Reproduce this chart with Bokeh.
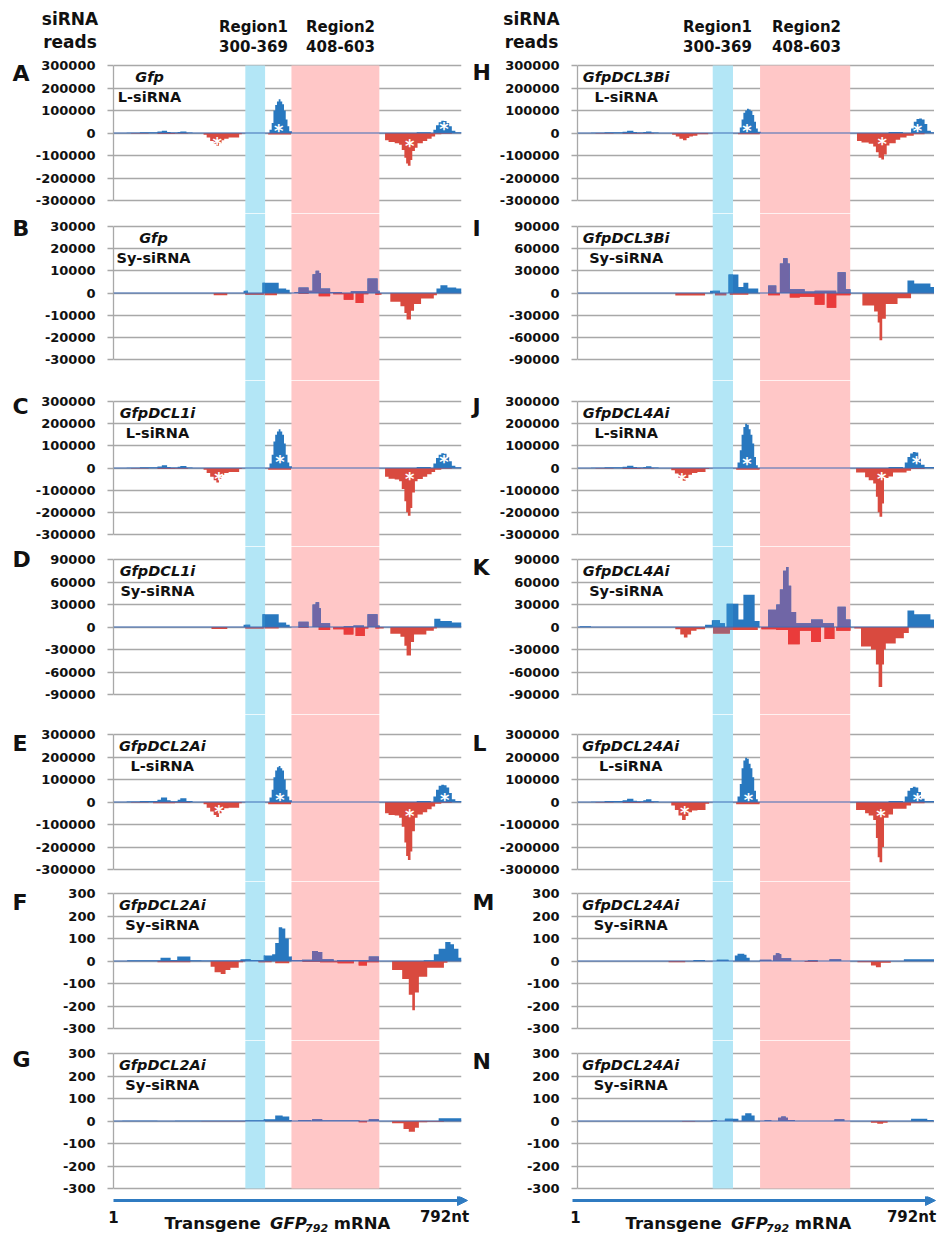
from bokeh.plotting import figure
from bokeh.layouts import column, row
from bokeh.models import Range1d, FixedTicker, Span, Arrow, NormalHead, Spacer
from bokeh.embed import file_html
from bokeh.resources import INLINE
from bokeh.core.properties import value

NT = 792
FONT = "DejaVu Sans"

# ---------------- data (segments: [start_nt, end_nt, reads]) ----------------
# L-siRNA values in thousands of reads; Sy-siRNA B/D/I/K in thousands; F/G/M/N raw reads
A_pos = [[30,60,1],[60,100,3],[100,110,7],[110,122,10],[122,130,5],[130,146,2],[146,152,5],[152,166,7],[166,180,2],
         [355,360,15],[360,364,45],[364,368,100],[368,372,125],[372,376,140],[376,380,150],[380,384,140],[384,388,128],[388,392,100],[392,396,60],[396,400,30],[400,406,8],
         [690,722,3],[728,734,15],[734,740,35],[740,746,48],[746,752,55],[752,758,53],[758,764,45],[764,770,30],[770,778,10],[778,792,3]]
A_neg = [[40,80,2],[100,140,4],[140,170,2],
         [205,212,8],[212,220,20],[220,228,35],[228,234,48],[234,240,57],[240,246,45],[246,252,32],[252,262,25],[262,286,20],[286,292,5],
         [352,404,7],
         [618,626,32],[626,640,40],[640,650,45],[650,656,52],[656,662,75],[662,666,110],[666,670,135],[670,676,145],[676,680,120],[680,686,80],[686,692,65],[692,704,45],[704,714,35],[714,724,25],[724,732,15],[732,746,6],[746,770,3]]
A_ast = [[236,-31],[376,31],[674,-39],[752,36]]

B_pos = [[296,306,1],[339,376,4.6],[376,393,2],[393,401,1.5],
         [412,421,0.5],[421,444,2.5],[444,453,1],[453,460,8.5],[460,468,10],[468,472,9],[472,493,2],[493,520,0.5],[540,551,0.8],[551,578,0.8],[578,601,6.5],[601,606,1],
         [735,744,2],[744,760,3.5],[760,780,2.5],[780,792,2]]
B_neg = [[228,259,1],[300,342,0.8],[344,372,1],
         [421,444,0.3],[467,493,1.5],[500,524,0.6],[524,546,3],[551,569,4.5],[569,580,0.6],[596,610,0.8],
         [630,653,4],[653,662,6],[662,667,9],[667,677,12],[677,684,8],[684,700,5],[700,729,2.5],[729,736,1]]

C_pos = [[30,60,1],[60,100,3],[100,110,7],[110,122,12],[122,130,5],[130,146,2],[146,152,6],[152,166,9],[166,180,2],
         [355,360,20],[360,364,60],[364,368,120],[368,372,150],[372,376,165],[376,380,175],[380,384,165],[384,388,150],[388,392,110],[392,396,60],[396,400,25],[400,406,8],
         [690,722,4],[728,734,20],[734,740,45],[740,746,60],[746,752,66],[752,758,64],[758,764,50],[764,770,30],[770,778,10],[778,792,3]]
C_neg = [[40,80,2],[100,140,5],[140,170,3],
         [205,212,8],[212,220,22],[220,228,40],[228,234,55],[234,240,65],[240,246,48],[246,252,32],[252,262,22],[262,286,18],[286,292,5],
         [352,404,8],
         [618,626,40],[626,640,48],[640,650,52],[650,656,60],[656,662,95],[662,666,150],[666,670,200],[670,676,215],[676,680,180],[680,686,110],[686,692,60],[692,704,50],[704,714,40],[714,724,28],[724,732,18],[732,746,8],[746,770,3]]
C_ast = [[240,-28],[379,46],[674,-28],[752,46]]

D_pos = [[296,311,3],[339,376,17],[376,393,6],[393,401,3],
         [421,444,7],[453,460,30],[460,468,33],[468,472,25],[472,493,5],[524,546,1],[546,570,2],[578,601,17],[601,606,2],
         [730,744,11],[744,770,8],[770,792,6]]
D_neg = [[223,259,2.5],[300,342,2],[344,376,2],
         [421,444,1],[467,493,4],[500,524,3],[524,546,10],[551,572,12],[572,580,2],[596,615,2],
         [630,653,9],[653,662,13],[662,667,25],[667,677,38],[677,684,20],[684,712,10],[712,729,5],[729,736,2]]

E_pos = [[30,60,2],[60,100,4],[100,108,10],[108,122,20],[122,130,8],[130,146,3],[146,152,10],[152,166,17],[166,180,4],
         [355,360,20],[360,364,55],[364,368,110],[368,372,140],[372,376,155],[376,380,160],[380,384,150],[384,388,140],[388,392,100],[392,396,55],[396,400,25],[400,406,8],
         [690,722,5],[728,734,25],[734,740,55],[740,746,72],[746,752,77],[752,758,74],[758,764,65],[764,770,40],[770,778,12],[778,792,4]]
E_neg = [[40,80,2],[90,140,5],[140,175,3],
         [205,212,10],[212,220,25],[220,228,42],[228,234,58],[234,240,67],[240,246,50],[246,252,35],[252,262,28],[262,286,25],[286,292,5],
         [352,404,10],
         [618,626,50],[626,640,58],[640,650,60],[650,656,70],[656,662,110],[662,666,180],[666,670,240],[670,676,258],[676,680,220],[680,686,130],[686,692,70],[692,704,55],[704,714,45],[714,724,32],[724,732,20],[732,746,8],[746,770,3]]
E_ast = [[240,-25],[379,30],[674,-40],[754,30]]

F_pos = [[31,107,3],[107,130,15],[130,145,5],[145,175,20],[175,200,3],[200,289,2],[289,312,8],[312,342,3],[342,361,25],[361,368,30],[368,376,80],[376,384,150],[384,391,145],[391,399,100],[399,406,20],
         [406,429,3],[429,452,6],[452,465,45],[465,475,40],[475,501,8],[509,547,5],[547,581,3],[581,604,20],
         [706,729,3],[729,740,30],[740,755,55],[755,767,85],[767,775,75],[775,785,55],[785,792,15]]
F_neg = [[100,175,5],
         [221,230,25],[230,244,50],[244,255,58],[255,266,40],[266,285,30],[285,295,5],
         [330,360,5],[368,400,10],
         [430,470,3],[470,510,6],[510,547,10],[558,577,20],[577,604,5],
         [634,657,40],[657,672,80],[672,680,150],[680,686,219],[686,695,140],[695,714,70],[714,752,30],[752,760,8]]

G_pos = [[20,100,1.5],[140,200,1.5],[200,300,1],[300,342,2],[342,368,8],[368,385,25],[385,400,20],[400,406,5],
         [420,450,3],[452,475,8],[475,560,2],[581,604,8],
         [740,792,12]]
G_neg = [[200,300,1],[558,577,5],
         [634,660,10],[660,672,35],[672,686,48],[686,695,30],[695,714,5],[714,752,3]]

H_pos = [[30,60,1],[60,100,3],[100,110,6],[110,124,10],[124,132,4],[132,146,2],[146,152,4],[152,164,7],[164,180,2],
         [360,364,25],[364,368,60],[368,372,90],[372,376,100],[376,380,108],[380,384,105],[384,388,98],[388,392,80],[392,396,50],[396,400,20],[400,406,6],
         [690,722,4],[740,746,20],[746,752,50],[752,758,62],[758,764,65],[764,770,60],[770,776,40],[776,784,10],[784,792,3]]
H_neg = [[40,80,2],[100,140,3],[140,170,2],
         [210,218,8],[218,226,15],[226,234,25],[234,242,32],[242,248,22],[248,256,15],[256,266,12],[266,290,6],
         [356,404,5],
         [620,630,35],[630,646,42],[646,656,48],[656,662,60],[662,668,85],[668,674,110],[674,680,118],[680,686,95],[686,692,55],[692,706,45],[706,716,30],[716,730,20],[730,746,12],[746,770,5]]
H_ast = [[376,31],[676,-31],[754,31]]

I_pos = [[294,316,3],[335,357,25],[357,368,8],[368,379,14],[379,401,6],
         [423,441,10],[449,456,40],[456,466,47],[466,471,40],[471,504,5],[504,526,2],[526,548,3],[548,574,3],[577,595,28],[595,606,5],
         [732,747,17],[747,783,13],[783,792,8]]
I_neg = [[217,283,3.5],[305,330,3],[338,379,2.5],
         [423,449,3],[471,493,6],[493,526,5],[526,548,16],[553,574,20],[574,606,3],
         [632,658,17],[658,666,25],[666,670,40],[670,676,64],[676,684,35],[684,710,15],[710,740,7]]

J_pos = [[30,60,1],[60,100,3],[100,110,6],[110,124,10],[124,132,4],[132,146,2],[146,152,5],[152,164,8],[164,180,2],
         [355,360,25],[360,364,80],[364,368,150],[368,372,185],[372,376,200],[376,380,195],[380,384,175],[384,388,150],[388,392,110],[392,396,50],[396,400,12],
         [690,722,5],[726,732,25],[732,738,50],[738,744,65],[744,750,72],[750,756,70],[756,762,45],[762,770,15],[770,792,4]]
J_neg = [[40,80,2],[100,140,4],[140,170,2],
         [208,216,10],[216,224,25],[224,232,45],[232,240,58],[240,246,45],[246,254,30],[254,266,22],[266,284,18],[284,292,5],
         [352,404,8],
         [618,638,20],[638,646,42],[646,656,55],[656,662,70],[662,666,130],[666,670,200],[670,676,220],[676,680,160],[680,690,45],[690,700,38],[700,730,20],[730,740,12],[740,770,4]]
J_ast = [[232,-36],[376,40],[675,-28],[752,45]]

K_pos = [[5,30,1],[283,298,3],[298,316,9],[316,327,5],[331,357,31],[357,368,10],[368,393,43],[393,404,8],
         [423,441,23],[441,449,30],[449,456,50],[456,463,75],[463,468,80],[468,474,55],[474,485,20],[485,518,5],[518,544,10],[544,569,5],[577,595,27],[595,606,10],
         [732,747,22],[747,783,17],[783,792,10]]
K_neg = [[217,228,3],[228,236,10],[236,244,14],[244,252,10],[252,264,5],[264,283,3],
         [301,338,8.5],[338,400,4],
         [408,441,3],[441,467,4],[467,493,23],[493,518,5],[518,540,20],[548,570,16],[574,606,5],
         [614,629,2],[629,651,26],[651,662,30],[662,668,50],[668,676,80],[676,680,50],[680,684,30],[684,706,22],[706,724,15],[724,735,8]]

L_pos = [[30,60,1],[60,100,4],[100,110,8],[110,124,15],[124,132,6],[132,146,3],[146,152,8],[152,164,12],[164,180,3],
         [355,360,25],[360,364,80],[364,368,150],[368,372,185],[372,376,197],[376,380,192],[380,384,170],[384,388,150],[388,392,110],[392,396,50],[396,400,12],
         [690,722,5],[726,732,25],[732,738,50],[738,744,62],[744,750,68],[750,756,65],[756,762,45],[762,770,15],[770,792,4]]
L_neg = [[40,80,2],[100,140,4],[140,170,2],
         [208,216,15],[216,224,35],[224,232,60],[232,240,80],[240,246,62],[246,254,45],[254,266,38],[266,284,35],[284,292,8],
         [352,404,10],
         [618,638,35],[638,646,50],[646,656,60],[656,662,80],[662,666,160],[666,670,245],[670,676,268],[676,680,200],[680,690,70],[690,700,55],[700,730,30],[730,740,15],[740,770,5]]
L_ast = [[238,-31],[379,27],[673,-40],[754,27]]

M_pos = [[257,283,4],[309,335,6],[349,355,25],[355,370,32],[370,375,28],[375,382,15],
         [404,430,6],[434,440,25],[440,448,35],[448,452,30],[452,474,12],[511,533,3],[559,585,8],
         [724,792,8]]
M_neg = [[202,239,6],[504,533,3],[621,651,5],[651,662,20],[662,673,28],[673,695,8]]

N_pos = [[296,309,3],[327,357,10],[364,372,25],[372,386,35],[386,393,25],
         [415,430,3],[445,452,15],[452,462,20],[462,467,15],[467,482,5],[570,592,8],
         [740,776,10],[776,790,5]]
N_neg = [[232,261,2],[651,665,8],[665,678,12],[678,688,8]]

REGION1 = (300, 345)
REGION2 = (405, 605)

LEFT_PANELS = [
    dict(letter="A", name="Gfp", kind="L-siRNA", T=300000, scale=1000, pos=A_pos, neg=A_neg, ast=A_ast, cx=82, ldy=7.5),
    dict(letter="B", name="Gfp", kind="Sy-siRNA", T=30000, scale=1000, pos=B_pos, neg=B_neg, ast=[], cx=91, ldy=2),
    dict(letter="C", name="GfpDCL1i", kind="L-siRNA", T=300000, scale=1000, pos=C_pos, neg=C_neg, ast=C_ast, cx=100, ldy=5),
    dict(letter="D", name="GfpDCL1i", kind="Sy-siRNA", T=90000, scale=1000, pos=D_pos, neg=D_neg, ast=[], cx=100, ldy=0),
    dict(letter="E", name="GfpDCL2Ai", kind="L-siRNA", T=300000, scale=1000, pos=E_pos, neg=E_neg, ast=E_ast, cx=111, ldy=9),
    dict(letter="F", name="GfpDCL2Ai", kind="Sy-siRNA", T=300, scale=1, pos=F_pos, neg=F_neg, ast=[], cx=111, ldy=9),
    dict(letter="G", name="GfpDCL2Ai", kind="Sy-siRNA", T=300, scale=1, pos=G_pos, neg=G_neg, ast=[], cx=111, ldy=6),
]
RIGHT_PANELS = [
    dict(letter="H", name="GfpDCL3Bi", kind="L-siRNA", T=300000, scale=1000, pos=H_pos, neg=H_neg, ast=H_ast, cx=108, ldy=7),
    dict(letter="I", name="GfpDCL3Bi", kind="Sy-siRNA", T=90000, scale=1000, pos=I_pos, neg=I_neg, ast=[], cx=108, ldy=2),
    dict(letter="J", name="GfpDCL4Ai", kind="L-siRNA", T=300000, scale=1000, pos=J_pos, neg=J_neg, ast=J_ast, cx=108, ldy=5),
    dict(letter="K", name="GfpDCL4Ai", kind="Sy-siRNA", T=90000, scale=1000, pos=K_pos, neg=K_neg, ast=[], cx=108, ldy=8),
    dict(letter="L", name="GfpDCL24Ai", kind="L-siRNA", T=300000, scale=1000, pos=L_pos, neg=L_neg, ast=L_ast, cx=118, ldy=9),
    dict(letter="M", name="GfpDCL24Ai", kind="Sy-siRNA", T=300, scale=1, pos=M_pos, neg=M_neg, ast=[], cx=118, ldy=9),
    dict(letter="N", name="GfpDCL24Ai", kind="Sy-siRNA", T=300, scale=1, pos=N_pos, neg=N_neg, ast=[], cx=118, ldy=8),
]

# ---------------- styling / layout ----------------
BLUE = "#2878BF"; RED = "#D94A3F"
BLUE_R1 = "#2E86C8"; RED_R1 = "#A66070"
BLUE_R2 = "#7066A6"; RED_R2 = "#EA3B3B"
BAND1 = "#B3E6F6"; BAND2 = "#FFC7C7"
GRID = "#A8A8A8"; ZERO = "#3F6DB5"; ARROW = "#2F7BC1"; INK = "#111111"

PAGE_W = 939
PAGE_H = 1233
HEADER_H = 55
ROW_H = [158, 167, 166, 168, 167, 159, 156]
ABOVE = [10, 13, 21, 13, 20, 12, 13]
BELOW = [13, 21, 12, 20, 12, 12, 8]
FOOTER_H = PAGE_H - HEADER_H - sum(ROW_H)
COLS = [dict(lw=23, lx=4, w=82 + 348 + 5, bl=82, br=5),
        dict(lw=30, lx=6, w=79 + 359, bl=79, br=0)]


def clip(segs, lo, hi):
    out = []
    for a, b, v in segs:
        a2, b2 = max(a, lo), min(b, hi)
        if b2 > a2:
            out.append([a2, b2, v])
    return out


def draw_segs(p, segs, sign, scale, color):
    if not segs:
        return
    xs, ys = [], []
    for a, b, v in segs:
        h = sign * v * scale
        xs += [a, a, b, b]
        ys += [0, h, h, 0]
    p.varea(x=xs, y1=[0] * len(xs), y2=ys, fill_color=color)


def bare_fig(w, h, xr, yr):
    p = figure(width=w, height=h, x_range=Range1d(*xr), y_range=Range1d(*yr), toolbar_location=None,
               output_backend="svg", x_axis_location=None, y_axis_location=None, min_border=0,
               min_border_left=0, min_border_right=0, min_border_top=0, min_border_bottom=0,
               outline_line_color=None, background_fill_color="white", border_fill_color="white")
    p.grid.visible = False
    return p


def make_panel(i, spec, col):
    T = spec["T"]
    S = ROW_H[i] - ABOVE[i] - BELOW[i]
    upp = 2.0 * T / S
    y0 = -T - BELOW[i] * upp
    y1 = T + ABOVE[i] * upp
    p = figure(width=col["w"], height=ROW_H[i], x_range=Range1d(0, NT), y_range=Range1d(y0, y1),
               toolbar_location=None, output_backend="svg", x_axis_location=None,
               min_border_left=col["bl"], min_border_right=col["br"], min_border_top=0, min_border_bottom=0,
               outline_line_color=None, background_fill_color="white", border_fill_color="white")
    p.xgrid.visible = False
    step = T // 3
    ticks = [k * step for k in range(-3, 4)]
    ax = p.yaxis[0]
    ax.ticker = FixedTicker(ticks=ticks)
    ax.major_label_overrides = {t: str(t) for t in ticks}
    ax.bounds = (-T, T)
    ax.major_tick_out = 6
    ax.major_tick_in = 0
    ax.minor_tick_out = 0
    ax.minor_tick_in = 0
    ax.major_tick_line_color = GRID
    ax.major_tick_line_width = 1.3
    ax.axis_line_color = GRID
    ax.axis_line_width = 1.3
    ax.axis_label_standoff = 0
    ax.major_label_standoff = 12
    ax.major_label_text_font = FONT
    ax.major_label_text_font_style = "bold"
    ax.major_label_text_font_size = "13px"
    ax.major_label_text_color = INK
    p.ygrid.grid_line_color = GRID
    p.ygrid.grid_line_width = 1.3
    p.ygrid.level = "image"

    btop = T if i == 0 else y1
    bbot = -T if i == len(ROW_H) - 1 else y0
    p.quad(left=[REGION1[0], REGION2[0]], right=[REGION1[1], REGION2[1]], top=[btop, btop], bottom=[bbot, bbot],
           fill_color=[BAND1, BAND2], line_color=None, level="underlay")

    sc = spec["scale"]
    draw_segs(p, spec["pos"], 1, sc, BLUE)
    draw_segs(p, spec["neg"], -1, sc, RED)
    draw_segs(p, clip(spec["pos"], *REGION1), 1, sc, BLUE_R1)
    draw_segs(p, clip(spec["neg"], *REGION1), -1, sc, RED_R1)
    draw_segs(p, clip(spec["pos"], *REGION2), 1, sc, BLUE_R2)
    draw_segs(p, clip(spec["neg"], *REGION2), -1, sc, RED_R2)
    p.add_layout(Span(location=0, dimension="width", line_color=ZERO, line_width=1.2))

    if spec["ast"]:
        p.text(x=[a[0] for a in spec["ast"]], y=[a[1] * sc for a in spec["ast"]], text=["*"] * len(spec["ast"]),
               text_color="white", text_font=value(FONT), text_font_style="bold", text_font_size="18px",
               text_align="center", text_baseline="middle", y_offset=4)

    p.text(x=[spec["cx"]], y=[T], text=[spec["name"]], text_font=value(FONT), text_font_style="bold italic",
           text_font_size="14.5px", text_align="center", text_baseline="middle", y_offset=11, text_color=INK)
    p.text(x=[spec["cx"]], y=[T], text=[spec["kind"]], text_font=value(FONT), text_font_style="bold",
           text_font_size="14.5px", text_align="center", text_baseline="middle", y_offset=31, text_color=INK)
    return p


def make_letter(i, spec, col):
    h = ROW_H[i]
    p = bare_fig(col["lw"], h, (0, col["lw"]), (0, h))
    p.text(x=[col["lx"]], y=[h - ABOVE[i] - spec["ldy"]], text=[spec["letter"]], text_font=value(FONT),
           text_font_style="bold", text_font_size="22px", text_align="left", text_baseline="middle",
           text_color=INK)
    return p


# header: coordinates in page pixels (x right, y up from header bottom)
header = bare_fig(PAGE_W, HEADER_H, (0, PAGE_W), (0, HEADER_H))
HDR_X_SIRNA = [69.5, 531]
HDR_X_R1 = [253, 717]
HDR_X_R2 = [340, 806]
for xs, xr1, xr2 in zip(HDR_X_SIRNA, HDR_X_R1, HDR_X_R2):
    header.text(x=[xs, xs], y=[HEADER_H - 18, HEADER_H - 41], text=["siRNA", "reads"], text_font=value(FONT),
                text_font_style="bold", text_font_size="17px", text_align="center", text_baseline="middle",
                text_color=INK)
    header.text(x=[xr1, xr1, xr2, xr2], y=[HEADER_H - 26, HEADER_H - 45.5, HEADER_H - 26, HEADER_H - 45.5],
                text=["Region1", "300-369", "Region2", "408-603"], text_font=value(FONT), text_font_style="bold",
                text_font_size="15px", text_align="center", text_baseline="middle", text_color=INK)

# footer: page pixel coordinates
footer = bare_fig(PAGE_W, FOOTER_H, (0, PAGE_W), (0, FOOTER_H))
ARROW_X = [(113, 467), (572, 935)]
ONE_X = [113, 575]
END_X = [444, 911]
TXT_X = [164, 625]
fs = 16.5
for (ax0, ax1), ox, ex, tx in zip(ARROW_X, ONE_X, END_X, TXT_X):
    ya = PAGE_H - 1200
    footer.add_layout(Arrow(end=NormalHead(size=10, fill_color=ARROW, line_color=ARROW), x_start=ax0, y_start=ya,
                            x_end=ax1, y_end=ya, line_color=ARROW, line_width=3))
    footer.text(x=[ox, ex], y=[PAGE_H - 1216, PAGE_H - 1216], text=["1", "792nt"], text_font=value(FONT),
                text_font_style="bold", text_font_size="15px", text_align="center", text_baseline="middle",
                text_color=INK)
    w_trans = 6.141 * fs + 0.25 * fs
    w_gfp = 2.129 * fs
    pieces = [("Transgene", "bold", fs, 0, 10), ("GFP", "bold italic", fs, w_trans, 10),
              ("792", "bold italic", 11, w_trans + w_gfp, 6),
              ("mRNA", "bold", fs, w_trans + w_gfp + 2.088 * 11 + 0.348 * fs, 10)]
    for txt, style, size, off, yb in pieces:
        footer.text(x=[tx + off], y=[yb], text=[txt], text_font=value(FONT), text_font_style=style,
                    text_font_size=f"{size}px", text_align="left", text_baseline="alphabetic", text_color=INK)

mid = [Spacer(width=8, height=sum(ROW_H))]
for col, panels in zip(COLS, [LEFT_PANELS, RIGHT_PANELS]):
    mid.append(column(*[make_letter(i, s, col) for i, s in enumerate(panels)], spacing=0))
    mid.append(column(*[make_panel(i, s, col) for i, s in enumerate(panels)], spacing=0))

layout = column(header, row(*mid, spacing=0), footer, spacing=0)
open("out.html", "w").write(file_html(layout, INLINE))
